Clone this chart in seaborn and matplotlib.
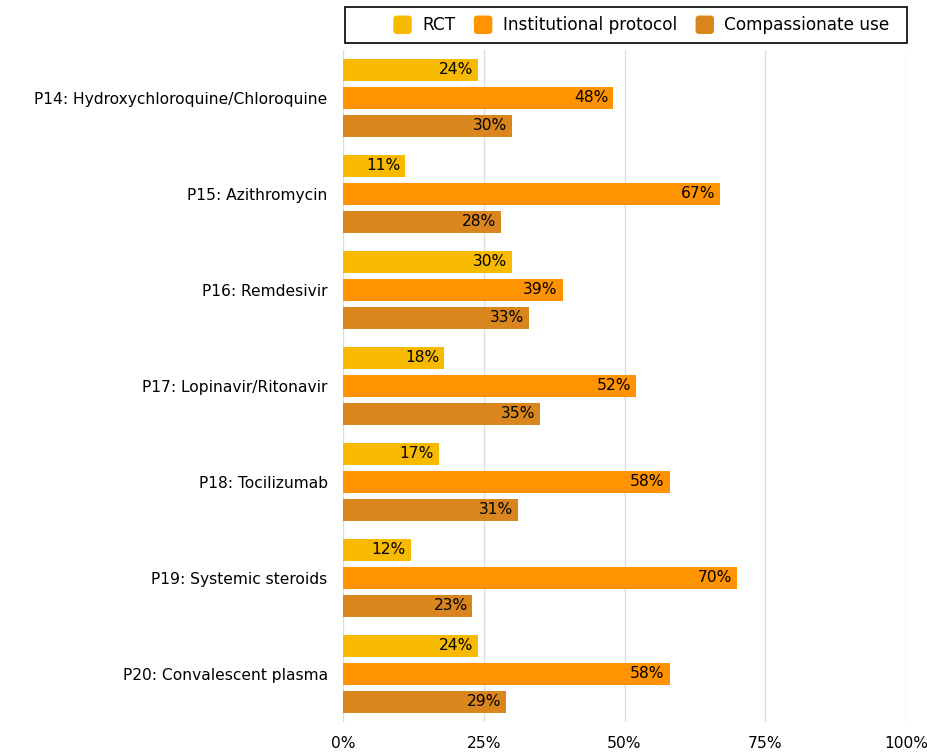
import matplotlib
matplotlib.use("Agg")
import matplotlib.pyplot as plt
import seaborn as sns
import pandas as pd
from matplotlib.patches import Rectangle, FancyBboxPatch, Patch
from matplotlib.legend_handler import HandlerPatch

categories = ["P14: Hydroxychloroquine/Chloroquine", "P15: Azithromycin", "P16: Remdesivir",
              "P17: Lopinavir/Ritonavir", "P18: Tocilizumab", "P19: Systemic steroids",
              "P20: Convalescent plasma"]
series = ["RCT", "Institutional protocol", "Compassionate use"]
rct = [24, 11, 30, 18, 17, 12, 24]
institutional = [48, 67, 39, 52, 58, 70, 58]
compassionate = [30, 28, 33, 35, 31, 23, 29]
xticks = [0, 25, 50, 75, 100]
colors = ["#F7BA00", "#FF9300", "#D9861E"]

rows = []
for s, vals in zip(series, [rct, institutional, compassionate]):
    for c, v in zip(categories, vals):
        rows.append({"category": c, "series": s, "value": v})
df = pd.DataFrame(rows)

sns.set_style("white")
plt.rcParams["font.family"] = ["DejaVu Sans"]
FS = 11.2

fig = plt.figure(figsize=(9.27, 7.53), dpi=100)
ax = fig.add_axes([343/927, 1 - 722/753, (906-343)/927, (722-50)/753])

sns.barplot(data=df, y="category", x="value", hue="series", order=categories,
            hue_order=series, palette=colors, width=0.875, gap=0.18,
            orient="h", ax=ax, legend=False, saturation=1, edgecolor="none")

for cont in ax.containers:
    labels = [f"{int(round(b.get_width()))}%" for b in cont]
    ax.bar_label(cont, labels=labels, padding=-3.5, label_type="edge", fontsize=FS,
                 color="black")
for t in ax.texts:
    t.set_horizontalalignment("right")

ax.set_xlim(0, 100)
ax.set_ylim(6.5, -0.5)
ax.set_xticks(xticks)
ax.set_xticklabels([f"{v}%" for v in xticks], fontsize=FS, color="black")
ax.tick_params(axis="y", labelsize=FS, length=0, pad=11, labelcolor="black")
ax.tick_params(axis="x", length=0, pad=10, labelcolor="black")
ax.grid(axis="x", color="#DDDDDD", linewidth=1)
ax.set_axisbelow(True)
for sp in ax.spines.values():
    sp.set_visible(False)
ax.set_xlabel("")
ax.set_ylabel("")

# legend box
fig.patches.append(Rectangle((345/927, 1 - 43/753), (907-345)/927, 36/753,
                             transform=fig.transFigure, fill=False,
                             edgecolor="black", linewidth=1.2))


class RoundHandler(HandlerPatch):
    def create_artists(self, legend, orig_handle, xdescent, ydescent, width, height,
                       fontsize, trans):
        s = min(width, height)
        p = FancyBboxPatch((-xdescent + (width - s) / 2, -ydescent + (height - s) / 2), s, s,
                           boxstyle=f"round,pad=0,rounding_size={s*0.2}",
                           facecolor=orig_handle.get_facecolor(), edgecolor="none",
                           transform=trans)
        return [p]


handles = [Patch(facecolor=c) for c in colors]
fig.legend(handles, series, loc="center right", bbox_to_anchor=(898/927, 1 - 25/753),
           ncol=3, frameon=False, fontsize=12.2, labelcolor="black", handletextpad=0.5,
           columnspacing=1.0, handlelength=1.3, handleheight=1.3, borderpad=0,
           handler_map={Patch: RoundHandler()})

fig.savefig("out.png", dpi=100)
